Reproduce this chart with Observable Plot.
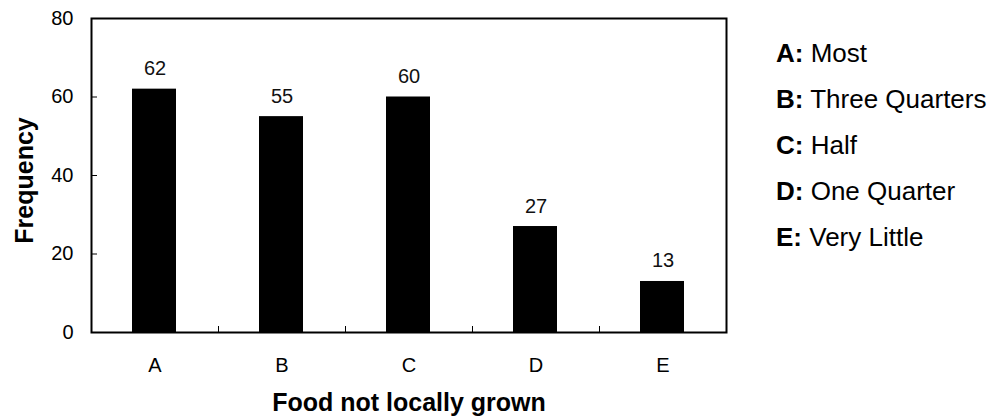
<!DOCTYPE html>
<html><head><meta charset="utf-8">
<script src="https://cdn.jsdelivr.net/npm/d3@7"></script>
<script src="https://cdn.jsdelivr.net/npm/@observablehq/plot@0.6"></script>
<style>
body{margin:0;background:#fff;font-family:Arial,"Liberation Sans",sans-serif;}
#wrap{position:relative;width:995px;height:417px;overflow:hidden;}
#legend{position:absolute;left:776px;top:30px;font-size:26px;line-height:46px;color:#000;white-space:nowrap;}
#legend b{font-weight:bold;}
</style></head><body>
<div id="wrap"><div id="chart"></div><div id="legend"></div></div>
<script>
const categories = ["A","B","C","D","E"];
const frequencies = [62,55,60,27,13];
const legendKeys = ["A:","B:","C:","D:","E:"];
const legendLabels = ["Most","Three Quarters","Half","One Quarter","Very Little"];
const yTicks = [0,20,40,60,80];
const xTitle = "Food not locally grown";
const yTitle = "Frequency";

const data = categories.map((c,i)=>({cat:c, i, value: frequencies[i]}));
const labelPos = categories.map((c,i)=>i+0.5);
const boundaries = categories.slice(1).map((c,i)=>i+1);

const chart = Plot.plot({
  width: 760, height: 417,
  marginLeft: 91, marginTop: 18, marginRight: 34, marginBottom: 85,
  style: {fontFamily: "Arial, 'Liberation Sans', sans-serif", fontSize: "20px", color: "#000", background: "#fff", overflow: "visible"},
  x: {type: "linear", domain: [0, categories.length]},
  y: {domain: [0, 80]},
  marks: [
    Plot.rectY(data, {x1: "i", x2: d => d.i + 1, y: "value", fill: "#000", insetLeft: 41, insetRight: 42}),
    Plot.text(data, {x: d => d.i + 0.5, y: "value", text: d => String(d.value), lineAnchor: "bottom", dy: -14, fontSize: 20, fill: "#111"}),
    Plot.axisY(yTicks, {tickSize: -6, tickPadding: 24, label: null, fontSize: 20}),
    Plot.axisX(labelPos, {tickSize: 0, tickPadding: 25, tickFormat: v => categories[Math.round(v - 0.5)], label: null, fontSize: 20}),
    Plot.axisX(boundaries, {tickSize: -6, tickFormat: () => "", label: null}),
    Plot.frame({stroke: "#000", strokeWidth: 2}),
    Plot.text([yTitle], {frameAnchor: "left", textAnchor: "middle", lineAnchor: "middle", dx: -67, dy: 5, rotate: -90, fontWeight: "bold", fontSize: 25}),
    Plot.text([xTitle], {frameAnchor: "bottom", textAnchor: "middle", lineAnchor: "middle", dy: 70, fontWeight: "bold", fontSize: 25})
  ]
});
document.getElementById("chart").appendChild(chart);

const legend = document.getElementById("legend");
legendKeys.forEach((k, i) => {
  const row = document.createElement("div");
  const b = document.createElement("b");
  b.textContent = k;
  row.appendChild(b);
  row.appendChild(document.createTextNode(" " + legendLabels[i]));
  legend.appendChild(row);
});
</script>
</body></html>
